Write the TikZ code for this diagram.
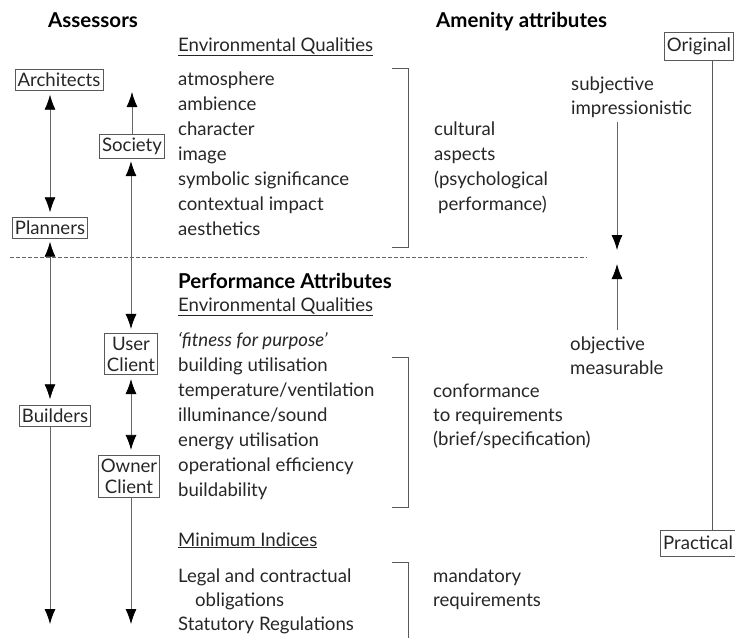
\documentclass[tikz,border=0pt]{standalone}
\usepackage{fontspec}
\setmainfont{Lato}
\usetikzlibrary{arrows.meta}
\begin{document}
\begin{tikzpicture}[x=1pt,y=-1pt,
 txt/.style={anchor=base west, inner sep=0pt, font=\fontsize{18.6}{25}\selectfont, text=black!85},
 hd/.style={anchor=base west, inner sep=0pt, font=\fontsize{20.5}{25}\selectfont\bfseries},
 bx/.style={draw=black!65, line width=0.6pt, inner xsep=2.5pt, inner ysep=3.5pt, font=\fontsize{18.6}{21}\selectfont, align=center, text=black!85},
 arr/.style={draw=black!60, line width=0.8pt, -{Latex[length=15pt,width=11pt,color=black]}},
 darr/.style={draw=black!60, line width=0.8pt, {Latex[length=15pt,width=11pt,color=black]}-{Latex[length=15pt,width=11pt,color=black]}},
 brk/.style={draw=black!65, line width=0.6pt},
 ]
\useasboundingbox (0,0) rectangle (735,638);

% headings
\node[hd] (assess) at (48,27) {Assessors};
\node[hd] (amen) at (436,27) {Amenity attributes};
\node[txt] (eq1) at (178,51) {\underline{Environmental Qualities}};

% assessor boxes
\node[bx] (archi) at (59,80) {Architects};
\node[bx] (soc) at (132,146) {Society};
\node[bx] (plan) at (50,228) {Planners};
\node[bx] (bld) at (55,416) {Builders};
\node[bx] (user) at (131,354) {User\\Client};
\node[bx] (owner) at (129,476) {Owner\\Client};

\coordinate (socup) at (132,92);
\coordinate (bldend) at (50,624);
\coordinate (ownend) at (131,624);

\draw[darr] ([yshift=-4pt]archi.south -| plan.north) -- ([yshift=5pt]plan.north);
\draw[arr] (soc.north) -- (socup);
\draw[darr] ([yshift=-3pt]soc.south -| user.north) -- ([yshift=4pt]user.north);
\draw[darr] ([yshift=-3pt]plan.south) -- ([yshift=6pt]plan.south |- bld.north);
\draw[darr] ([yshift=-4pt]user.south) -- ([yshift=5pt]user.south |- owner.north);
\draw[arr] (bld.south -| plan.south) -- (bldend);
\draw[arr] (owner.south -| user.south) -- (ownend);

% amenity list
\node[txt] (l1) at (178,85) {atmosphere};
\node[txt] (l2) at (178,110) {ambience};
\node[txt] (l3) at (178,135) {character};
\node[txt] (l4) at (178,160) {image};
\node[txt] (l5) at (178,185) {symbolic significance};
\node[txt] (l6) at (178,210) {contextual impact};
\node[txt] (l7) at (178,235) {aesthetics};
\draw[brk] (392,68) -- (408,68) -- (408,247) -- (392,247);
\node[txt] (c1) at (434,135) {cultural};
\node[txt] (c2) at (434,160) {aspects};
\node[txt] (c3) at (434,185) {(psychological};
\node[txt] (c4) at (438,210) {performance)};

\node[txt] (subj) at (571,90) {subjective};
\node[txt] (impr) at (571,114) {impressionistic};
\coordinate (a1s) at (617,122);
\coordinate (a1e) at (617,250);
\coordinate (a2s) at (617,330);
\coordinate (a2e) at (617,264);
\draw[arr] (a1s) -- (a1e);
\draw[arr] (a2s) -- (a2e);
\node[txt] (obj) at (570,350) {objective};
\node[txt] (meas) at (570,374) {measurable};

% original / practical
\node[bx, minimum height=28pt] (orig) at (699,46) {Original};
\node[bx, minimum height=26pt] (prac) at (698,543) {Practical};
\draw[brk] ([xshift=13pt]orig.south) -- ([xshift=13pt]orig.south |- prac.north);

% dashed separator
\draw[draw=black!60, line width=0.7pt, dash pattern=on 4pt off 2pt] (10,257) -- (587,257);

% performance
\node[hd] (perf) at (178,288) {Performance Attributes};
\node[txt] (eq2) at (178,311) {\underline{Environmental Qualities}};
\node[txt] (p0) at (178,346) {\itshape `fitness for purpose'};
\node[txt] (p1) at (178,371) {building utilisation};
\node[txt] (p2) at (178,396) {temperature/ventilation};
\node[txt] (p3) at (178,421) {illuminance/sound};
\node[txt] (p4) at (178,446) {energy utilisation};
\node[txt] (p5) at (178,471) {operational efficiency};
\node[txt] (p6) at (178,496) {buildability};
\draw[brk] (392,357) -- (408,357) -- (408,507) -- (392,507);
\node[txt] (f1) at (433,397) {conformance};
\node[txt] (f2) at (433,421) {to requirements};
\node[txt] (f3) at (433,445) {(brief/specification)};

\node[txt] (mi) at (178,546) {\underline{Minimum Indices}};
\node[txt] (m1) at (178,582) {Legal and contractual};
\node[txt] (m2) at (195,606) {obligations};
\node[txt] (m3) at (178,630) {Statutory Regulations};
\draw[brk] (392,562) -- (408,562) -- (408,638);
\node[txt] (r1) at (433,582) {mandatory};
\node[txt] (r2) at (433,606) {requirements};
\end{tikzpicture}
\end{document}
